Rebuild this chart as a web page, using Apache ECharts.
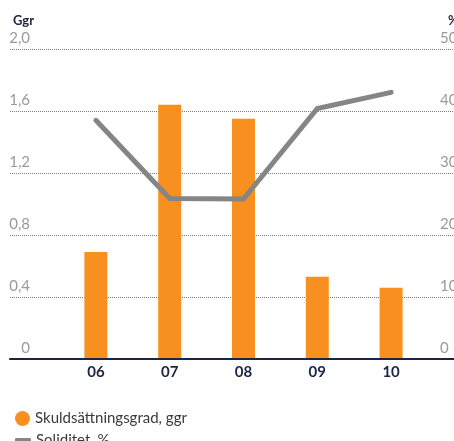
<!DOCTYPE html>
<html>
<head>
<meta charset="utf-8">
<script src="https://cdn.jsdelivr.net/npm/echarts@6/dist/echarts.min.js"></script>
<style>
  html, body { margin: 0; padding: 0; background: #ffffff; }
  #chart { width: 454px; height: 441px; }
</style>
</head>
<body>
<div id="chart"></div>
<script>
// Years on the category axis
const years = ['06', '07', '08', '09', '10'];
// Debt/equity ratio (times) – bars on the left scale
const skuldsattningsgrad = [0.69, 1.64, 1.55, 0.53, 0.46];
// Equity ratio (%) – line on the right scale
const soliditet = [38.5, 25.9, 25.8, 40.4, 43.0];
// Scale ranges
const leftMax = 2.0, leftStep = 0.4;
const rightMax = 50, rightStep = 10;

const FONT = 'Lato';
const NAVY = '#1b2440';
const ORANGE = '#f7901e';
const GREY = '#858585';

const fmtLeft = v => (v === 0 ? '0' : v.toFixed(1).replace('.', ','));

const chart = echarts.init(document.getElementById('chart'), null, { renderer: 'canvas' });

chart.setOption({
  animation: false,
  textStyle: { fontFamily: FONT },
  title: [
    { text: 'Ggr', left: 8, top: 9, textStyle: { fontFamily: FONT, fontSize: 13, fontWeight: 'bold', color: NAVY } },
    { text: '%', left: 443, top: 9, textStyle: { fontFamily: FONT, fontSize: 13, fontWeight: 'bold', color: NAVY } }
  ],
  legend: [
    {
      data: ['Skuldsättningsgrad, ggr'],
      orient: 'vertical', left: 10, top: 406,
      icon: 'circle', itemWidth: 15, itemHeight: 15, itemGap: 0,
      textStyle: { fontFamily: FONT, fontSize: 15, color: '#3a3a3a' }
    },
    {
      data: ['Soliditet, %'],
      orient: 'vertical', left: 10, top: 428,
      icon: 'roundRect', itemWidth: 16, itemHeight: 5, itemGap: 0,
      textStyle: { fontFamily: FONT, fontSize: 15, color: '#3a3a3a' }
    }
  ],
  grid: [
    // full-width frame carrying the scales and grid lines
    { left: 10, right: 0, top: 49, bottom: 82, containLabel: false, outerBoundsMode: 'none' },
    // plotting area for the data
    { left: 59, right: 26, top: 49, bottom: 82, containLabel: false, outerBoundsMode: 'none' }
  ],
  xAxis: [
    {
      gridIndex: 0, type: 'value', min: 0, max: 1, position: 'bottom',
      axisLine: { show: true, lineStyle: { color: NAVY, width: 2 } },
      axisTick: { show: false }, axisLabel: { show: false }, splitLine: { show: false }, z: 5
    },
    {
      gridIndex: 0, type: 'value', min: 0, max: 1, position: 'bottom', offset: 22,
      axisLine: { show: true, lineStyle: { color: '#4a5163', width: 1 } },
      axisTick: { show: false }, axisLabel: { show: false }, splitLine: { show: false }
    },
    {
      gridIndex: 1, type: 'category', data: years, position: 'bottom',
      axisLine: { show: false }, axisTick: { show: false },
      axisLabel: { margin: 6, fontFamily: FONT, fontSize: 15, fontWeight: 'bold', color: NAVY }
    }
  ],
  yAxis: [
    {
      gridIndex: 0, type: 'value', position: 'left', min: 0, max: leftMax, interval: leftStep,
      axisLine: { show: false }, axisTick: { show: false },
      axisLabel: {
        inside: true, margin: 20, align: 'right', verticalAlign: 'bottom',
        padding: [0, 0, 3, 0], formatter: fmtLeft,
        fontFamily: FONT, fontSize: 15, color: '#9a9a9a'
      },
      splitLine: { show: true, lineStyle: { type: 'dotted', color: '#7a7a7a', width: 1 } }
    },
    {
      // right scale: axis pulled inside the frame so its labels start near the edge
      gridIndex: 0, type: 'value', position: 'right', offset: -14,
      min: 0, max: rightMax, interval: rightStep,
      axisLine: { show: false }, axisTick: { show: false },
      axisLabel: {
        inside: false, margin: 0, align: 'left', verticalAlign: 'bottom',
        padding: [0, 0, 3, 0],
        fontFamily: FONT, fontSize: 15, color: '#9a9a9a'
      },
      splitLine: { show: false }
    },
    { gridIndex: 1, type: 'value', min: 0, max: leftMax, interval: leftStep, show: false },
    { gridIndex: 1, type: 'value', min: 0, max: rightMax, interval: rightStep, show: false }
  ],
  series: [
    {
      name: 'Skuldsättningsgrad, ggr', type: 'bar',
      xAxisIndex: 2, yAxisIndex: 2,
      data: skuldsattningsgrad, barWidth: 23,
      itemStyle: { color: ORANGE }
    },
    {
      name: 'Soliditet, %', type: 'line',
      xAxisIndex: 2, yAxisIndex: 3,
      data: soliditet, symbol: 'none', showSymbol: false,
      lineStyle: { color: GREY, width: 5, cap: 'round', join: 'miter' },
      itemStyle: { color: GREY }
    }
  ]
});
</script>
</body>
</html>
